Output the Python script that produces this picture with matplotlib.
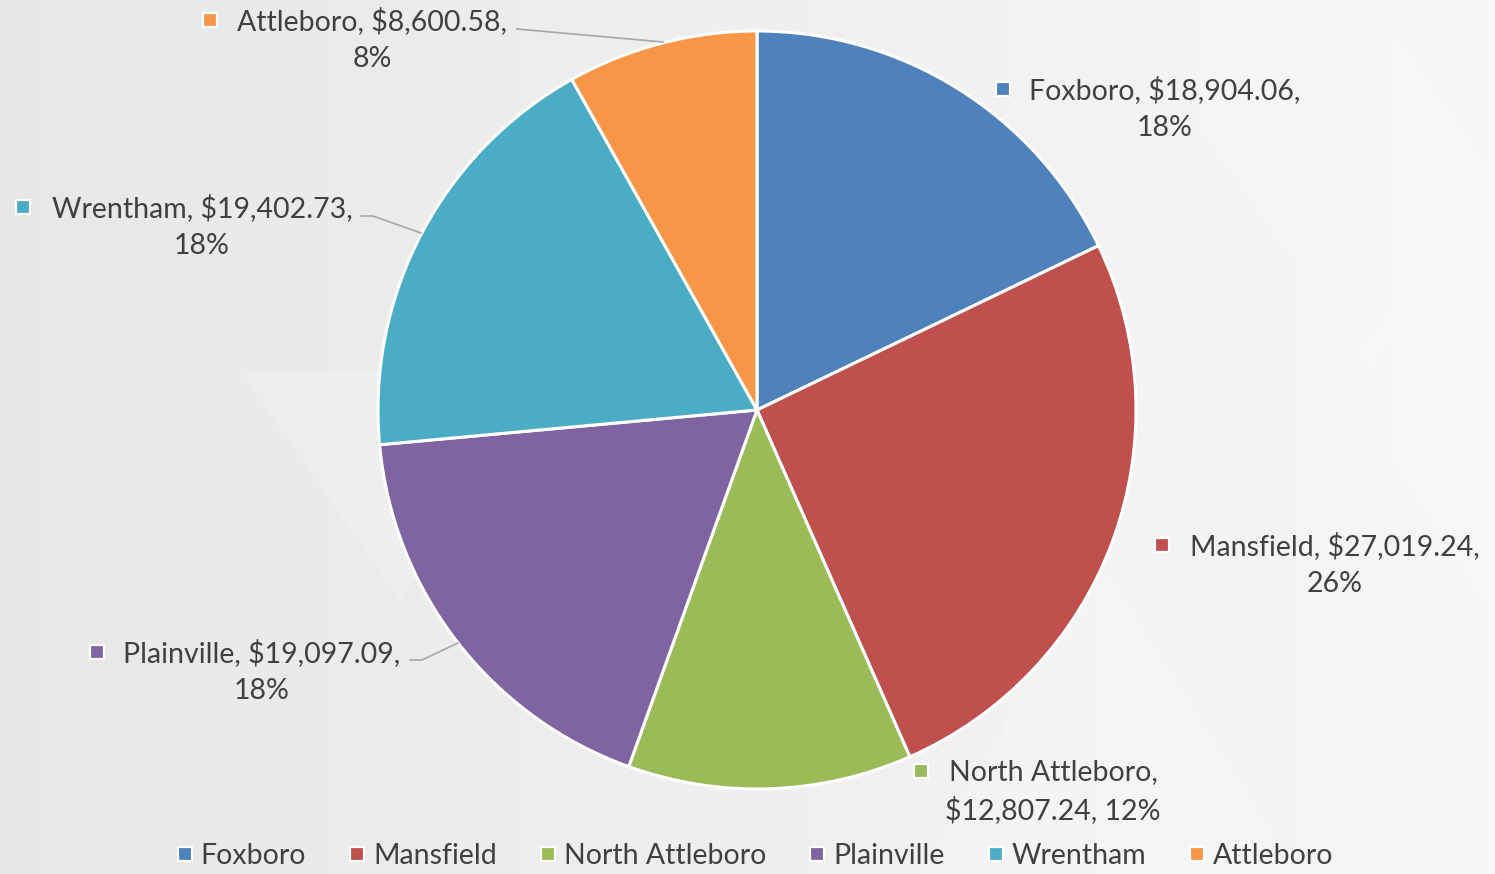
import numpy as np
import matplotlib.pyplot as plt
from matplotlib.patches import Polygon

plt.rcParams['font.family'] = ['Lato', 'DejaVu Sans']

towns = ['Foxboro', 'Mansfield', 'North Attleboro', 'Plainville', 'Wrentham', 'Attleboro']
amounts = [18904.06, 27019.24, 12807.24, 19097.09, 19402.73, 8600.58]
colors = ['#4F81BD', '#C0504D', '#9BBB59', '#8064A2', '#4BACC6', '#F79646']

W, H = 1495, 874
text_color = '#404040'
fs = 20.5

fig = plt.figure(figsize=(W / 100, H / 100), dpi=100)
ax = fig.add_axes([0, 0, 1, 1])

# gray gradient background with a few faint diamonds
grad = np.linspace(0.905, 0.965, 256)[None, :]
grad = np.repeat(grad, 2, axis=0)
ax.imshow(grad, cmap='gray', vmin=0, vmax=1, extent=(0, W, H, 0), aspect='auto', zorder=0)
shapes = [
    [(1200, 0), (1370, 0), (1500, 180), (1370, 370), (1200, 130)],
    [(940, 180), (1130, 430), (940, 700), (760, 430)],
    [(1340, 380), (1495, 160), (1495, 620)],
    [(240, 370), (560, 370), (400, 600)],
    [(1100, 560), (1300, 874), (920, 874)],
]
for pts in shapes:
    ax.add_patch(Polygon(pts, closed=True, facecolor='white', alpha=0.18, edgecolor='none', zorder=0))

wedges, _ = ax.pie(amounts, colors=colors, startangle=-90, counterclock=True,
                   center=(757, 410), radius=379, frame=True,
                   wedgeprops=dict(edgecolor='white', linewidth=2.2))
for w in wedges:
    w.set_zorder(2)
ax.set_xlim(0, W)
ax.set_ylim(H, 0)
ax.axis('off')

total = sum(amounts)

# data label placement: (marker x, first line y, text center x, wrap style)
label_pos = {
    'Foxboro': (1003, 89, 1165, 1),
    'Mansfield': (1162, 545, 1335, 1),
    'North Attleboro': (921, 771, 1053, 2),
    'Plainville': (97, 652, 262, 1),
    'Wrentham': (23, 207, 202, 1),
    'Attleboro': (210, 20, 372, 1),
}
leaders = {
    'Attleboro': [(517, 29), (663, 42)],
    'Wrentham': [(361, 216), (373, 216), (421, 233)],
    'Plainville': [(410, 660), (422, 660), (458, 643)],
}

for name, val, col in zip(towns, amounts, colors):
    mx, y, cx, style = label_pos[name]
    pct = f'{val / total * 100:.0f}%'
    money = f'${val:,.2f}'
    if style == 1:
        line1 = f'{name}, {money},'
        line2 = pct
    else:
        line1 = f'{name},'
        line2 = f'{money}, {pct}'
    ax.plot(mx, y, marker='s', markersize=10, color=col, mec='white', mew=1.6, zorder=4)
    ax.text(cx, y + 1, line1, ha='center', va='center', fontsize=fs, color=text_color, zorder=4)
    ax.text(cx, y + 39, line2, ha='center', va='center', fontsize=fs, color=text_color, zorder=4)

for name, pts in leaders.items():
    xs, ys = zip(*pts)
    ax.plot(xs, ys, color='#a6a6a6', linewidth=1.2, zorder=3)

handles = [plt.Line2D([], [], linestyle='none', marker='s', markersize=10, color=c,
                      mec='white', mew=1.6) for c in colors]
leg = ax.legend(handles, towns, loc='lower center', bbox_to_anchor=(0.505, -0.024), ncol=6,
                frameon=False, fontsize=fs, handlelength=0.6, handletextpad=0.25,
                columnspacing=1.5, labelcolor=text_color)

fig.savefig('out.png', dpi=100)
